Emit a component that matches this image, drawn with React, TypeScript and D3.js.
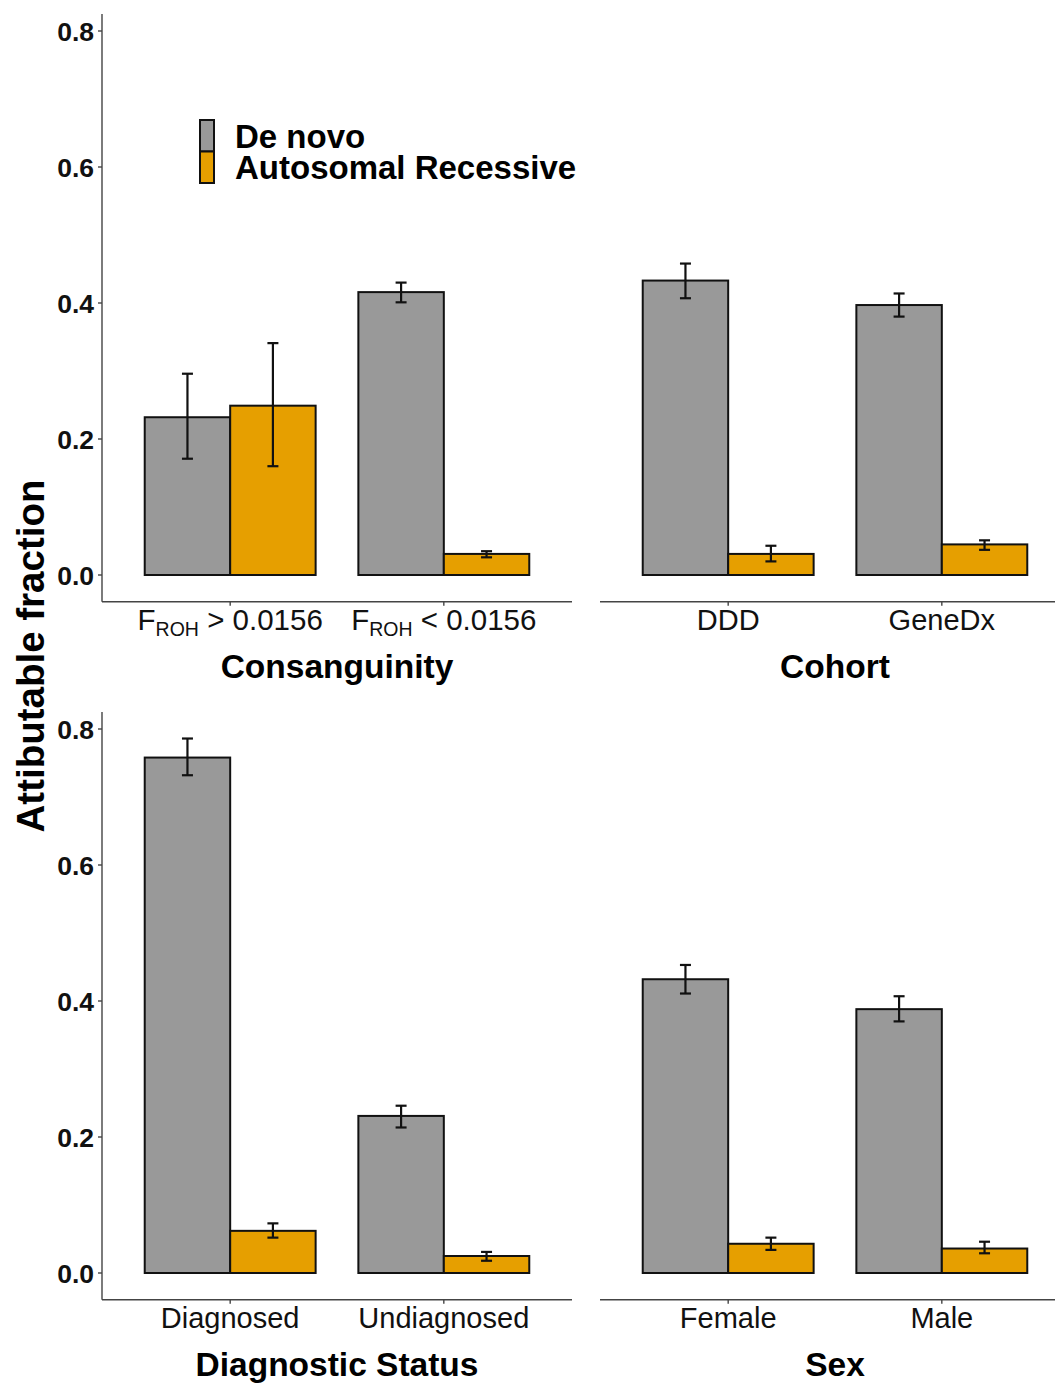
import * as d3 from "d3";
import React from "react";

// series
const SERIES = ["De novo", "Autosomal Recessive"];
const SERIES_COLORS = ["#999999", "#E69F00"];

// Consanguinity
const CONSANG_CATS = ["> 0.0156", "< 0.0156"];
const CONSANG_DENOVO = [0.232, 0.416];
const CONSANG_DENOVO_LO = [0.171, 0.401];
const CONSANG_DENOVO_HI = [0.296, 0.43];
const CONSANG_AR = [0.249, 0.031];
const CONSANG_AR_LO = [0.16, 0.026];
const CONSANG_AR_HI = [0.341, 0.035];

// Cohort
const COHORT_CATS = ["DDD", "GeneDx"];
const COHORT_DENOVO = [0.433, 0.397];
const COHORT_DENOVO_LO = [0.407, 0.38];
const COHORT_DENOVO_HI = [0.458, 0.414];
const COHORT_AR = [0.031, 0.045];
const COHORT_AR_LO = [0.02, 0.037];
const COHORT_AR_HI = [0.043, 0.051];

// Diagnostic status
const DIAG_CATS = ["Diagnosed", "Undiagnosed"];
const DIAG_DENOVO = [0.758, 0.231];
const DIAG_DENOVO_LO = [0.732, 0.214];
const DIAG_DENOVO_HI = [0.786, 0.246];
const DIAG_AR = [0.062, 0.025];
const DIAG_AR_LO = [0.052, 0.018];
const DIAG_AR_HI = [0.073, 0.031];

// Sex
const SEX_CATS = ["Female", "Male"];
const SEX_DENOVO = [0.432, 0.388];
const SEX_DENOVO_LO = [0.411, 0.37];
const SEX_DENOVO_HI = [0.453, 0.407];
const SEX_AR = [0.043, 0.036];
const SEX_AR_LO = [0.034, 0.029];
const SEX_AR_HI = [0.052, 0.046];

const Y_TICKS = [0, 0.2, 0.4, 0.6, 0.8];
const Y_LO = -0.0393;
const Y_HI = 0.825;

const FONT = "'Liberation Sans', Arial, Helvetica, sans-serif";

type Cell = { cat: string; series: string; v: number; lo: number; hi: number };

function cellsFor(cats: string[], dn: number[], dnLo: number[], dnHi: number[], ar: number[], arLo: number[], arHi: number[]): Cell[] {
  const out: Cell[] = [];
  cats.forEach((c, i) => {
    out.push({ cat: c, series: SERIES[0], v: dn[i], lo: dnLo[i], hi: dnHi[i] });
    out.push({ cat: c, series: SERIES[1], v: ar[i], lo: arLo[i], hi: arHi[i] });
  });
  return out;
}

function Panel({
  cats, cells, title, x0, x1, yZero, showY, froh,
}: {
  cats: string[]; cells: Cell[]; title: string; x0: number; x1: number; yZero: number; showY: boolean; froh?: boolean;
}) {
  const y = d3.scaleLinear().domain([0, 0.8]).range([yZero, yZero - 544]);
  const x = d3.scalePoint<string>().domain(cats).range([x0, x1]).padding(0.6);
  const dodge = d3.scaleBand<string>().domain(SERIES).range([-x.step() * 0.4, x.step() * 0.4]);
  const color = d3.scaleOrdinal<string, string>().domain(SERIES).range(SERIES_COLORS);
  const axisY = y(Y_LO);
  const cx = (x0 + x1) / 2;
  const titleX = showY ? cx : x0 + (572 - 102) / 2;

  return (
    <g>
      {/* bars */}
      {cells.map((d, i) => {
        const left = (x(d.cat) ?? 0) + (dodge(d.series) ?? 0);
        return (
          <rect key={"b" + i} x={left} y={y(d.v)} width={dodge.bandwidth()} height={y(0) - y(d.v)}
            fill={color(d.series)} stroke="#111" strokeWidth={2} />
        );
      })}
      {/* error bars */}
      {cells.map((d, i) => {
        const m = (x(d.cat) ?? 0) + (dodge(d.series) ?? 0) + dodge.bandwidth() / 2;
        return (
          <g key={"e" + i} stroke="#111" strokeWidth={2.2}>
            <line x1={m} x2={m} y1={y(d.lo)} y2={y(d.hi)} />
            <line x1={m - 5.5} x2={m + 5.5} y1={y(d.lo)} y2={y(d.lo)} />
            <line x1={m - 5.5} x2={m + 5.5} y1={y(d.hi)} y2={y(d.hi)} />
          </g>
        );
      })}
      {/* x axis */}
      <line x1={x0} x2={x1} y1={axisY} y2={axisY} stroke="#444" strokeWidth={1.4} />
      {cats.map((c) => (
        <g key={c}>
          <line x1={x(c)} x2={x(c)} y1={axisY} y2={axisY + 4} stroke="#444" strokeWidth={1.4} />
          {froh ? (
            <text x={x(c)} y={axisY + 28} textAnchor="middle" fontFamily={FONT} fontSize={29.5} fill="#111">
              F<tspan fontSize={19.5} dy={6}>ROH</tspan><tspan dy={-6}>{" " + c}</tspan>
            </text>
          ) : (
            <text x={x(c)} y={axisY + 28} textAnchor="middle" fontFamily={FONT} fontSize={29} fill="#111">{c}</text>
          )}
        </g>
      ))}
      <text x={titleX} y={axisY + 76} textAnchor="middle" fontFamily={FONT} fontSize={33.5} fontWeight="bold" fill="#000">{title}</text>
      {/* y axis */}
      {showY && (
        <g>
          <line x1={x0} x2={x0} y1={y(Y_LO)} y2={y(Y_HI)} stroke="#444" strokeWidth={1.4} />
          {Y_TICKS.map((t) => (
            <g key={t}>
              <line x1={x0 - 4} x2={x0} y1={y(t)} y2={y(t)} stroke="#444" strokeWidth={1.4} />
              <text x={x0 - 8} y={y(t)} dy="0.36em" textAnchor="end" fontFamily={FONT} fontSize={26.5} fontWeight="bold" fill="#111">
                {d3.format(".1f")(t)}
              </text>
            </g>
          ))}
        </g>
      )}
    </g>
  );
}

export default function App() {
  const consang = cellsFor(CONSANG_CATS, CONSANG_DENOVO, CONSANG_DENOVO_LO, CONSANG_DENOVO_HI, CONSANG_AR, CONSANG_AR_LO, CONSANG_AR_HI);
  const cohort = cellsFor(COHORT_CATS, COHORT_DENOVO, COHORT_DENOVO_LO, COHORT_DENOVO_HI, COHORT_AR, COHORT_AR_LO, COHORT_AR_HI);
  const diag = cellsFor(DIAG_CATS, DIAG_DENOVO, DIAG_DENOVO_LO, DIAG_DENOVO_HI, DIAG_AR, DIAG_AR_LO, DIAG_AR_HI);
  const sex = cellsFor(SEX_CATS, SEX_DENOVO, SEX_DENOVO_LO, SEX_DENOVO_HI, SEX_AR, SEX_AR_LO, SEX_AR_HI);

  return (
    <svg width={1055} height={1383} style={{ position: "absolute", left: 0, top: 0, background: "#fff" }}>
      <rect width={1055} height={1383} fill="#fff" />
      <Panel cats={CONSANG_CATS} cells={consang} title="Consanguinity" x0={102} x1={572} yZero={575} showY froh />
      <Panel cats={COHORT_CATS} cells={cohort} title="Cohort" x0={600} x1={1070} yZero={575} showY={false} />
      <Panel cats={DIAG_CATS} cells={diag} title="Diagnostic Status" x0={102} x1={572} yZero={1273} showY />
      <Panel cats={SEX_CATS} cells={sex} title="Sex" x0={600} x1={1070} yZero={1273} showY={false} />

      {/* y title */}
      <text transform="translate(44,656) rotate(-90)" textAnchor="middle" fontFamily={FONT} fontSize={38.5} fontWeight="bold" fill="#000">
        Attibutable fraction
      </text>

      {/* legend */}
      {SERIES.map((s, i) => (
        <g key={s}>
          <rect x={200} y={120 + i * 31.5} width={14} height={31.5} fill={SERIES_COLORS[i]} stroke="#111" strokeWidth={2} />
          <text x={235} y={136 + i * 31.5} dy="0.36em" fontFamily={FONT} fontSize={33} fontWeight="bold" fill="#000">{s}</text>
        </g>
      ))}
    </svg>
  );
}
